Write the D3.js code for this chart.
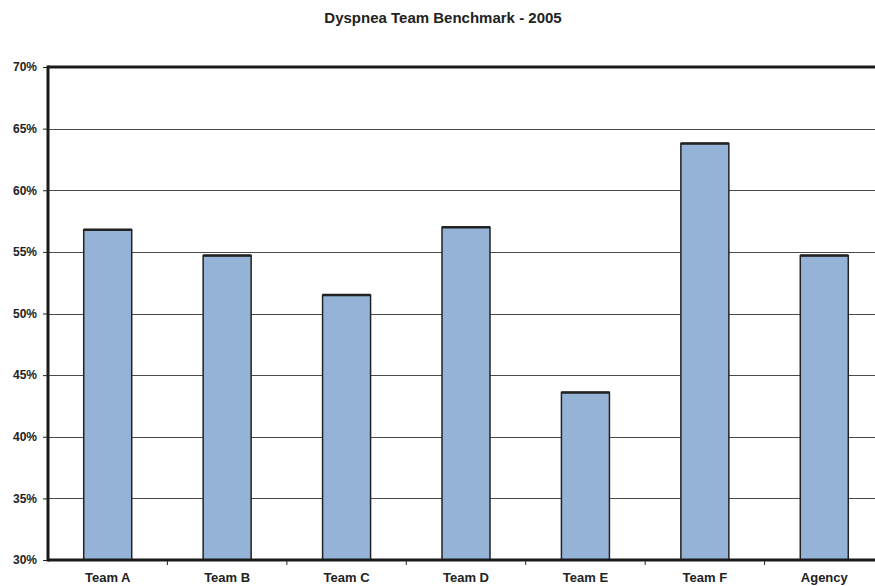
<!DOCTYPE html>
<html>
<head>
<meta charset="utf-8">
<script src="https://cdn.jsdelivr.net/npm/d3@7"></script>
<style>
  body { margin: 0; background: #fff; }
  svg { display: block; font-family: "Liberation Sans", Arial, sans-serif; }
</style>
</head>
<body>
<div id="chart"></div>
<script>
// chart data
var teams = ["Team A", "Team B", "Team C", "Team D", "Team E", "Team F", "Agency"];
var rates = [56.8, 54.7, 51.5, 57.0, 43.6, 63.8, 54.7];
var yTicks = [30, 35, 40, 45, 50, 55, 60, 65, 70];

var margin = {top: 67, right: -9, bottom: 26, left: 48},
    width = 875 - margin.left - margin.right,
    height = 586 - margin.top - margin.bottom;

var svg = d3.select("#chart").append("svg")
    .attr("width", 875)
    .attr("height", 586);

svg.append("text")
    .attr("x", 443)
    .attr("y", 23)
    .attr("text-anchor", "middle")
    .style("font-size", "15px")
    .style("font-weight", "bold")
    .attr("fill", "#222")
    .text("Dyspnea Team Benchmark - 2005");

var g = svg.append("g")
    .attr("transform", "translate(" + margin.left + "," + margin.top + ")");

// one band per team, bars drawn 48px wide in the middle
var x = d3.scaleBand()
    .domain(teams)
    .range([0, width]);

var y = d3.scaleLinear()
    .domain([30, 70])
    .range([height, 0]);

// gridlines
g.append("g")
    .selectAll("line")
    .data(yTicks.slice(1, -1))
  .enter().append("line")
    .attr("x1", 0)
    .attr("x2", width)
    .attr("y1", function(d) { return Math.round(y(d)) + 0.5; })
    .attr("y2", function(d) { return Math.round(y(d)) + 0.5; })
    .attr("stroke", "#4a4a4a")
    .attr("stroke-width", 1);

// bars
g.selectAll(".bar")
    .data(rates)
  .enter().append("rect")
    .attr("class", "bar")
    .attr("x", function(d, i) { return x(teams[i]) + x.bandwidth() / 2 - 24; })
    .attr("width", 48)
    .attr("y", function(d) { return y(d); })
    .attr("height", function(d) { return height - y(d); })
    .attr("fill", "#95b3d7")
    .attr("stroke", "#222")
    .attr("stroke-width", 1.5);

// top edge of bars slightly heavier
g.selectAll(".bartop")
    .data(rates)
  .enter().append("line")
    .attr("x1", function(d, i) { return x(teams[i]) + x.bandwidth() / 2 - 24; })
    .attr("x2", function(d, i) { return x(teams[i]) + x.bandwidth() / 2 + 24; })
    .attr("y1", function(d) { return y(d); })
    .attr("y2", function(d) { return y(d); })
    .attr("stroke", "#222")
    .attr("stroke-width", 2.5);

// y axis
var yAxis = d3.axisLeft(y)
    .tickValues(yTicks)
    .tickSize(5)
    .tickPadding(6)
    .tickFormat(function(d) { return d + "%"; });

g.append("g")
    .attr("class", "y axis")
    .call(yAxis)
    .call(function(s) {
      s.select(".domain").remove();
      s.selectAll("line").attr("stroke", "#222");
      s.selectAll("text")
        .style("font-size", "12px")
        .style("font-weight", "bold")
        .attr("fill", "#222")
        .attr("font-family", null);
    });

// x axis ticks at band boundaries
g.append("g")
    .selectAll("line")
    .data(teams.slice(1))
  .enter().append("line")
    .attr("x1", function(d) { return x(d); })
    .attr("x2", function(d) { return x(d); })
    .attr("y1", height)
    .attr("y2", height + 5)
    .attr("stroke", "#222");

g.append("g")
    .selectAll("text")
    .data(teams)
  .enter().append("text")
    .attr("x", function(d) { return x(d) + x.bandwidth() / 2; })
    .attr("y", height + 22)
    .attr("text-anchor", "middle")
    .style("font-size", "13px")
    .style("font-weight", "bold")
    .attr("fill", "#222")
    .text(function(d) { return d; });

// heavy frame lines: top, left, bottom
g.append("line")
    .attr("x1", 0).attr("x2", width)
    .attr("y1", 0).attr("y2", 0)
    .attr("stroke", "#1a1a1a").attr("stroke-width", 3);
g.append("line")
    .attr("x1", 0).attr("x2", width)
    .attr("y1", height).attr("y2", height)
    .attr("stroke", "#1a1a1a").attr("stroke-width", 3);
g.append("line")
    .attr("x1", 0).attr("x2", 0)
    .attr("y1", -1.5).attr("y2", height + 1.5)
    .attr("stroke", "#1a1a1a").attr("stroke-width", 3);
</script>
</body>
</html>
